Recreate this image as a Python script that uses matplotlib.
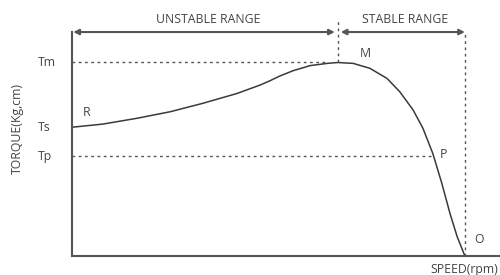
import matplotlib
matplotlib.use("Agg")
from matplotlib import pyplot as plt

plt.rcParams['font.family'] = ['Open Sans', 'DejaVu Sans']

# torque-speed curve (speed 0..100, torque 0..100)
speed = [0, 7.2, 15.2, 22.9, 30.6, 38.6, 43.9, 46.3, 48.6, 51.6, 55.6, 59.6,
         62.1, 65.7, 69.6, 73.6, 76.6, 79.7, 82.0, 84.3, 86.4, 88.3, 90.0, 91.8]
torque = [57.5, 58.9, 61.5, 64.4, 68.2, 72.6, 76.3, 78.3, 80.4, 82.7, 85.0, 86.0,
          86.4, 86.0, 83.8, 79.3, 73.3, 65.2, 57.0, 45.8, 32.5, 19.1, 8.6, 0]

t_max = 86.4
t_start = 57.5
t_pull = 44.6
s_max = 62.1
s_zero = 91.8
s_pull = 84.3

txt = '#444444'
ln = '#555555'

fig = plt.figure(figsize=(5, 2.75), dpi=100)
ax = fig.add_axes([0.144, 0.069, 0.856, 0.8145])
ax.set_xlim(0, 100)
ax.set_ylim(0, 100)
for s in ['top', 'right']:
    ax.spines[s].set_visible(False)
for s in ['left', 'bottom']:
    ax.spines[s].set_color(ln)
    ax.spines[s].set_linewidth(1.5)
ax.set_xticks([])
ax.set_yticks([])

ax.plot(speed, torque, color='#3a3a3a', lw=1.1, solid_joinstyle='round')

dot = dict(color='#555555', lw=1.0, dashes=(2, 2.5))
ax.plot([0, 59.1], [t_max, t_max], **dot)
ax.plot([0, s_pull - 0.5], [t_pull, t_pull], **dot)
ax.plot([s_max, s_max], [t_max, 105.4], clip_on=False, **dot)
ax.plot([s_zero, s_zero], [0, 100], clip_on=False, **dot)

arr = dict(arrowstyle='<|-|>', color=ln, lw=1.5, mutation_scale=8,
           shrinkA=0, shrinkB=0)
ax.annotate('', xy=(0.3, 100), xytext=(s_max - 0.7, 100), arrowprops=arr,
            annotation_clip=False)
ax.annotate('', xy=(s_max + 0.7, 100), xytext=(s_zero, 100), arrowprops=arr,
            annotation_clip=False)

fs = 8.8
ax.text(31.8, 105.8, 'UNSTABLE RANGE', ha='center', va='center', fontsize=fs, color=txt)
ax.text(77.8, 105.8, 'STABLE RANGE', ha='center', va='center', fontsize=fs, color=txt)

for lab, y in [('Tm', t_max), ('Ts', t_start), ('Tp', t_pull)]:
    ax.text(-7.9, y, lab, ha='left', va='center', fontsize=fs, color=txt, clip_on=False)

ax.text(3.5, 64.3, 'R', ha='center', va='center', fontsize=fs, color=txt)
ax.text(68.5, 90.6, 'M', ha='center', va='center', fontsize=fs, color=txt)
ax.text(86.7, 45.5, 'P', ha='center', va='center', fontsize=fs, color=txt)
ax.text(95.1, 7.6, 'O', ha='center', va='center', fontsize=fs, color=txt)

fig.text(464 / 500, 1 - 270 / 275, 'SPEED(rpm)', ha='center', va='center',
         fontsize=fs, color=txt)
fig.text(17 / 500, 1 - 128 / 275, 'TORQUE(Kg,cm)', ha='center', va='center',
         rotation=90, fontsize=fs, color=txt)

plt.savefig('out.png', dpi=100)
plt.close()
